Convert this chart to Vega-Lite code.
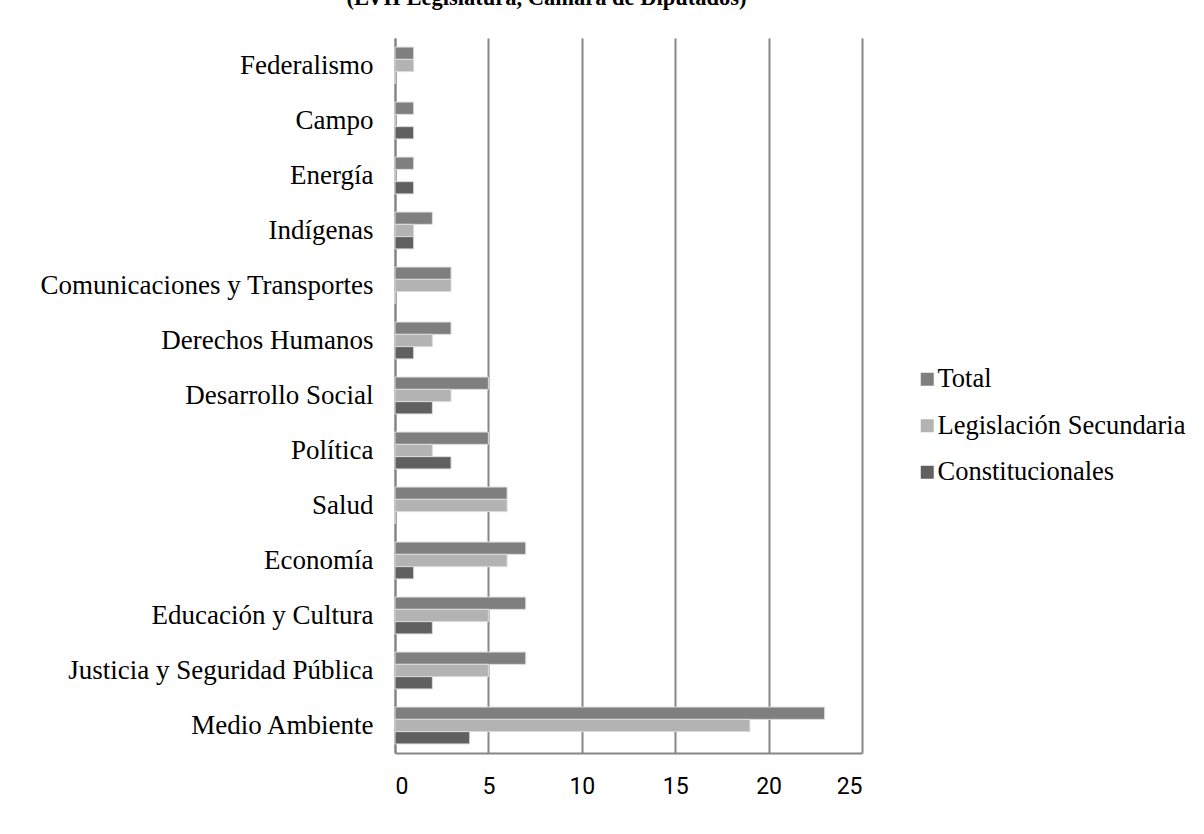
{
  "$schema": "https://vega.github.io/schema/vega-lite/v6.json",
  "width": 467,
  "height": 715,
  "autosize": {"type": "none"},
  "padding": {"left": 395, "top": 38, "right": 342, "bottom": 81},
  "background": "white",
  "title": {
    "text": "(LVII Legislatura, Cámara de Diputados)",
    "font": "Liberation Serif",
    "fontSize": 22.5,
    "fontWeight": "bold",
    "color": "black",
    "anchor": "middle",
    "frame": "group",
    "dx": -82,
    "offset": 6,
    "baseline": "bottom"
  },
  "data": {
    "values": [
      {"tema": "Federalismo", "serie": "Total", "valor": 1},
      {"tema": "Federalismo", "serie": "Legislación Secundaria", "valor": 1},
      {"tema": "Federalismo", "serie": "Constitucionales", "valor": 0},
      {"tema": "Campo", "serie": "Total", "valor": 1},
      {"tema": "Campo", "serie": "Legislación Secundaria", "valor": 0},
      {"tema": "Campo", "serie": "Constitucionales", "valor": 1},
      {"tema": "Energía", "serie": "Total", "valor": 1},
      {"tema": "Energía", "serie": "Legislación Secundaria", "valor": 0},
      {"tema": "Energía", "serie": "Constitucionales", "valor": 1},
      {"tema": "Indígenas", "serie": "Total", "valor": 2},
      {"tema": "Indígenas", "serie": "Legislación Secundaria", "valor": 1},
      {"tema": "Indígenas", "serie": "Constitucionales", "valor": 1},
      {"tema": "Comunicaciones y Transportes ", "serie": "Total", "valor": 3},
      {"tema": "Comunicaciones y Transportes ", "serie": "Legislación Secundaria", "valor": 3},
      {"tema": "Comunicaciones y Transportes ", "serie": "Constitucionales", "valor": 0},
      {"tema": "Derechos Humanos ", "serie": "Total", "valor": 3},
      {"tema": "Derechos Humanos ", "serie": "Legislación Secundaria", "valor": 2},
      {"tema": "Derechos Humanos ", "serie": "Constitucionales", "valor": 1},
      {"tema": "Desarrollo Social ", "serie": "Total", "valor": 5},
      {"tema": "Desarrollo Social ", "serie": "Legislación Secundaria", "valor": 3},
      {"tema": "Desarrollo Social ", "serie": "Constitucionales", "valor": 2},
      {"tema": "Política", "serie": "Total", "valor": 5},
      {"tema": "Política", "serie": "Legislación Secundaria", "valor": 2},
      {"tema": "Política", "serie": "Constitucionales", "valor": 3},
      {"tema": "Salud ", "serie": "Total", "valor": 6},
      {"tema": "Salud ", "serie": "Legislación Secundaria", "valor": 6},
      {"tema": "Salud ", "serie": "Constitucionales", "valor": 0},
      {"tema": "Economía", "serie": "Total", "valor": 7},
      {"tema": "Economía", "serie": "Legislación Secundaria", "valor": 6},
      {"tema": "Economía", "serie": "Constitucionales", "valor": 1},
      {"tema": "Educación y Cultura", "serie": "Total", "valor": 7},
      {"tema": "Educación y Cultura", "serie": "Legislación Secundaria", "valor": 5},
      {"tema": "Educación y Cultura", "serie": "Constitucionales", "valor": 2},
      {"tema": "Justicia y Seguridad Pública ", "serie": "Total", "valor": 7},
      {"tema": "Justicia y Seguridad Pública ", "serie": "Legislación Secundaria", "valor": 5},
      {"tema": "Justicia y Seguridad Pública ", "serie": "Constitucionales", "valor": 2},
      {"tema": "Medio Ambiente", "serie": "Total", "valor": 23},
      {"tema": "Medio Ambiente", "serie": "Legislación Secundaria", "valor": 19},
      {"tema": "Medio Ambiente", "serie": "Constitucionales", "valor": 4}
    ]
  },
  "mark": {"type": "bar", "stroke": "#dcdcdc", "strokeWidth": 1},
  "encoding": {
    "y": {
      "field": "tema",
      "type": "nominal",
      "sort": ["Federalismo", "Campo", "Energía", "Indígenas", "Comunicaciones y Transportes ", "Derechos Humanos ", "Desarrollo Social ", "Política", "Salud ", "Economía", "Educación y Cultura", "Justicia y Seguridad Pública ", "Medio Ambiente"],
      "scale": {"paddingInner": 0.33, "paddingOuter": 0.165},
      "axis": {
        "title": null,
        "ticks": false,
        "domainColor": "#868686",
        "domainWidth": 2,
        "labelFont": "Liberation Serif",
        "labelFontSize": 27,
        "labelColor": "black",
        "labelPadding": 22,
        "labelLimit": 500
      }
    },
    "yOffset": {
      "field": "serie",
      "sort": ["Total", "Legislación Secundaria", "Constitucionales"],
      "scale": {"paddingInner": 0, "paddingOuter": 0}
    },
    "x": {
      "field": "valor",
      "type": "quantitative",
      "scale": {"domain": [0, 25], "nice": false},
      "axis": {
        "title": null,
        "values": [0, 5, 10, 15, 20, 25],
        "ticks": false,
        "grid": true,
        "gridColor": "#868686",
        "gridWidth": 2,
        "domainColor": "#868686",
        "domainWidth": 2,
        "labelFont": "Roboto",
        "labelFontSize": 23,
        "labelColor": "black",
        "labelPadding": 22
      }
    },
    "color": {
      "field": "serie",
      "type": "nominal",
      "sort": ["Total", "Legislación Secundaria", "Constitucionales"],
      "scale": {
        "domain": ["Total", "Legislación Secundaria", "Constitucionales"],
        "range": ["#7f7f7f", "#b3b3b3", "#606060"]
      },
      "legend": {
        "title": null,
        "orient": "none",
        "legendX": 519,
        "legendY": 328,
        "padding": 0,
        "symbolType": "square",
        "symbolSize": 169,
        "symbolStrokeWidth": 0,
        "labelFont": "Liberation Serif",
        "labelFontSize": 26.5,
        "labelColor": "black",
        "labelOffset": -3,
        "rowPadding": 19.5,
        "labelLimit": 400
      }
    }
  },
  "config": {"view": {"stroke": null}}
}
